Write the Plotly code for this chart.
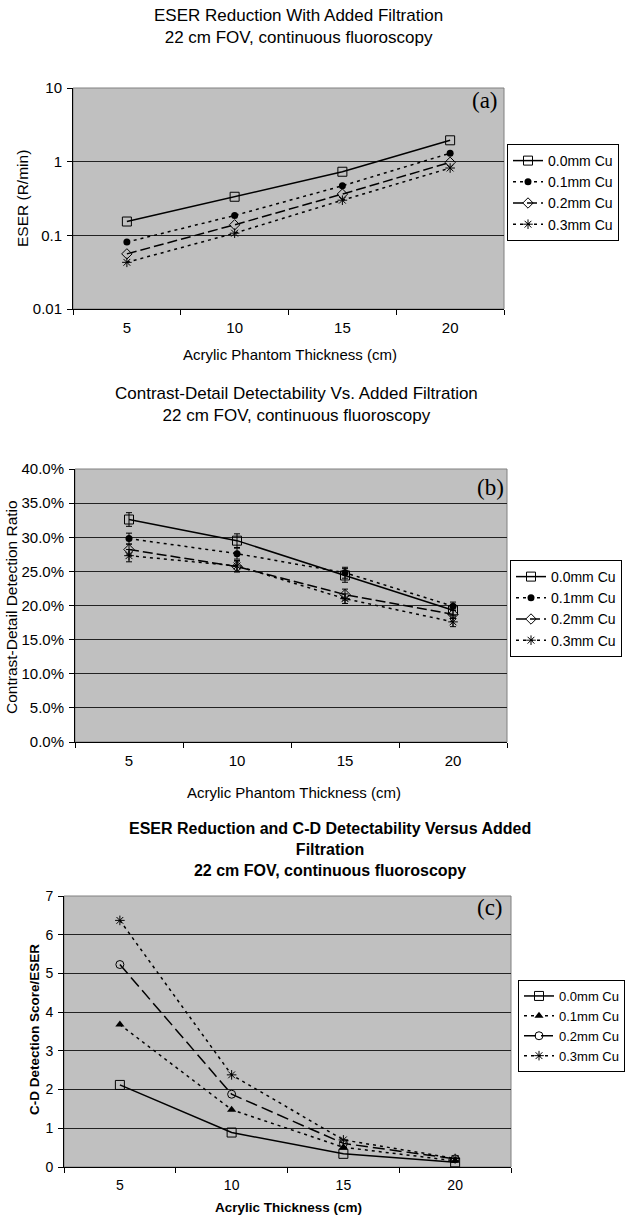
import plotly.graph_objects as go

# ---------------- data ----------------
thickness = [5, 10, 15, 20]
filters = ["0.0mm Cu", "0.1mm Cu", "0.2mm Cu", "0.3mm Cu"]

# (a) ESER (R/min)
eser_00 = [0.154, 0.334, 0.73, 1.95]
eser_01 = [0.081, 0.186, 0.47, 1.30]
eser_02 = [0.056, 0.139, 0.363, 0.98]
eser_03 = [0.043, 0.107, 0.30, 0.82]

# (b) Contrast-detail detection ratio (%)
cd_00 = [32.6, 29.5, 24.4, 19.3]
cd_01 = [29.8, 27.6, 24.8, 19.9]
cd_02 = [28.2, 25.7, 21.6, 18.7]
cd_03 = [27.3, 25.8, 21.0, 17.6]
cd_err_00 = [1.0, 1.0, 1.0, 0.8]
cd_err_01 = [0.8, 0.8, 0.8, 0.6]
cd_err_02 = [0.8, 0.8, 0.8, 0.6]
cd_err_03 = [0.9, 0.8, 0.7, 0.7]

# (c) C-D detection score / ESER
ratio_00 = [2.12, 0.89, 0.34, 0.12]
ratio_01 = [3.68, 1.48, 0.51, 0.16]
ratio_02 = [5.23, 1.88, 0.61, 0.21]
ratio_03 = [6.37, 2.38, 0.70, 0.22]

# ---------------- layout helpers ----------------
W, H = 630, 1216
SANS = "Liberation Sans, Arial, sans-serif"
SERIF = "Liberation Serif, Times New Roman, serif"


def px(x):
    return x / W


def py(y):
    return 1 - y / H


cats = [str(t) for t in thickness]

fig = go.Figure()

line_styles = [
    dict(color="black", width=1.5, dash="solid"),
    dict(color="black", width=1.5, dash="3px,4px"),
    dict(color="black", width=1.5, dash="10px,4px"),
    dict(color="black", width=1.5, dash="3px,4px"),
]
markers_ab = [
    dict(symbol="square-open", size=9, color="black", line=dict(width=1, color="black")),
    dict(symbol="circle", size=7, color="black"),
    dict(symbol="diamond-open", size=8, color="black", line=dict(width=1, color="black")),
    dict(symbol="asterisk-open", size=8, color="black", line=dict(width=1, color="black")),
]
markers_c = [
    dict(symbol="square-open", size=9, color="black", line=dict(width=1, color="black")),
    dict(symbol="triangle-up", size=8, color="black"),
    dict(symbol="circle-open", size=8, color="black", line=dict(width=1, color="black")),
    dict(symbol="asterisk-open", size=8, color="black", line=dict(width=1, color="black")),
]

eser = [eser_00, eser_01, eser_02, eser_03]
cd = [cd_00, cd_01, cd_02, cd_03]
cd_err = [cd_err_00, cd_err_01, cd_err_02, cd_err_03]
ratio = [ratio_00, ratio_01, ratio_02, ratio_03]

for i, name in enumerate(filters):
    fig.add_trace(go.Scatter(x=cats, y=eser[i], name=name, mode="lines+markers",
                             line=line_styles[i], marker=markers_ab[i],
                             xaxis="x", yaxis="y", legend="legend"))
for i, name in enumerate(filters):
    fig.add_trace(go.Scatter(x=cats, y=cd[i], name=name, mode="lines+markers",
                             line=line_styles[i], marker=markers_ab[i],
                             error_y=dict(type="data", array=cd_err[i], color="black",
                                          thickness=1, width=3),
                             xaxis="x2", yaxis="y2", legend="legend2"))
for i, name in enumerate(filters):
    ls = dict(line_styles[i])
    if i == 2:
        ls["dash"] = "12px,5px"
    fig.add_trace(go.Scatter(x=cats, y=ratio[i], name=name, mode="lines+markers",
                             line=ls, marker=markers_c[i],
                             xaxis="x3", yaxis="y3", legend="legend3"))

# plot areas in pixels: (left, right, top, bottom)
areas = {
    "": (73, 504, 88, 309),
    "2": (75, 507, 469, 742),
    "3": (64, 511, 896, 1167),
}

tick_font = dict(family=SANS, size=15, color="black")
tick_font_c = dict(family=SANS, size=14, color="black")

for k, (l, r, t, b) in areas.items():
    xf = tick_font_c if k == "3" else tick_font
    fig.update_layout({
        f"xaxis{k}": dict(
            domain=[px(l), px(r)], anchor=f"y{k}", type="category",
            categoryorder="array", categoryarray=cats, range=[-0.5, 3.5],
            tickson="boundaries", ticks="outside", ticklen=5, tickcolor="black",
            showline=True, linecolor="black", linewidth=1, showgrid=False,
            zeroline=False, tickfont=xf, ticklabelstandoff=5, fixedrange=True,
        ),
        f"yaxis{k}": dict(
            domain=[py(b), py(t)], anchor=f"x{k}",
            ticks="outside", ticklen=5, tickcolor="black",
            showline=True, linecolor="black", linewidth=1,
            showgrid=True, gridcolor="#222222", gridwidth=1, zeroline=False,
            tickfont=xf, ticklabelstandoff=2, fixedrange=True,
        ),
    })
    fig.add_shape(type="rect", xref=f"x{k} domain", yref=f"y{k} domain",
                  x0=0, x1=1, y0=0, y1=1, line=dict(color="#808080", width=1),
                  layer="below")

fig.update_layout(
    yaxis=dict(type="log", range=[-2, 1], tickvals=[0.01, 0.1, 1, 10],
               ticktext=["0.01", "0.1", "1", "10"]),
    yaxis2=dict(range=[0, 40], dtick=5, tick0=0, tickformat=".1f", ticksuffix="%"),
    yaxis3=dict(range=[0, 7], dtick=1, tick0=0),
)

leg_common = dict(bgcolor="white", bordercolor="black", borderwidth=1,
                  xanchor="left", yanchor="top",
                  itemclick=False, itemdoubleclick=False)
fig.update_layout(
    legend=dict(x=px(507), y=py(144), font=dict(family=SANS, size=14, color="black"), **leg_common),
    legend2=dict(x=px(510), y=py(560), font=dict(family=SANS, size=14, color="black"), **leg_common),
    legend3=dict(x=px(518), y=py(980), font=dict(family=SANS, size=13, color="black"), **leg_common),
)

ann = []
# titles
ann.append(dict(text="ESER Reduction With Added Filtration<br>22 cm FOV, continuous fluoroscopy",
                x=px(298), y=py(26), font=dict(family=SANS, size=17, color="black")))
ann.append(dict(text="Contrast-Detail Detectability Vs. Added Filtration<br>22 cm FOV, continuous fluoroscopy",
                x=px(296), y=py(404), font=dict(family=SANS, size=17, color="black")))
ann.append(dict(text="ESER Reduction and C-D Detectability Versus Added<br>Filtration<br>22 cm FOV, continuous fluoroscopy",
                x=px(330), y=py(849), font=dict(family=SANS, size=16, color="black", weight="bold")))
# x axis titles
ann.append(dict(text="Acrylic Phantom Thickness (cm)", x=px(290), y=py(354),
                font=dict(family=SANS, size=15, color="black")))
ann.append(dict(text="Acrylic Phantom Thickness (cm)", x=px(294), y=py(792),
                font=dict(family=SANS, size=15, color="black")))
ann.append(dict(text="Acrylic Thickness (cm)", x=px(288), y=py(1207),
                font=dict(family=SANS, size=13.5, color="black", weight="bold")))
# y axis titles
ann.append(dict(text="ESER (R/min)", x=px(22), y=py(199), textangle=-90,
                font=dict(family=SANS, size=15.5, color="black")))
ann.append(dict(text="Contrast-Detail Detection Ratio", x=px(11), y=py(607), textangle=-90,
                font=dict(family=SANS, size=15.5, color="black")))
ann.append(dict(text="C-D Detection Score/ESER", x=px(34), y=py(1030), textangle=-90,
                font=dict(family=SANS, size=13.5, color="black", weight="bold")))
# panel labels
ann.append(dict(text="(a)", x=px(485), y=py(100), font=dict(family=SERIF, size=23, color="black")))
ann.append(dict(text="(b)", x=px(490), y=py(487), font=dict(family=SERIF, size=23, color="black")))
ann.append(dict(text="(c)", x=px(490), y=py(907), font=dict(family=SERIF, size=23, color="black")))

for a in ann:
    a.update(xref="paper", yref="paper", showarrow=False, xanchor="center", yanchor="middle")

fig.update_layout(
    annotations=ann,
    width=W, height=H,
    margin=dict(l=0, r=0, t=0, b=0, pad=0, autoexpand=False),
    paper_bgcolor="white", plot_bgcolor="#C0C0C0",
    font=dict(family=SANS, color="black"),
    showlegend=True,
)

fig.write_html("out.html", config={"displayModeBar": False},
               post_script="document.body.style.margin='0';")
